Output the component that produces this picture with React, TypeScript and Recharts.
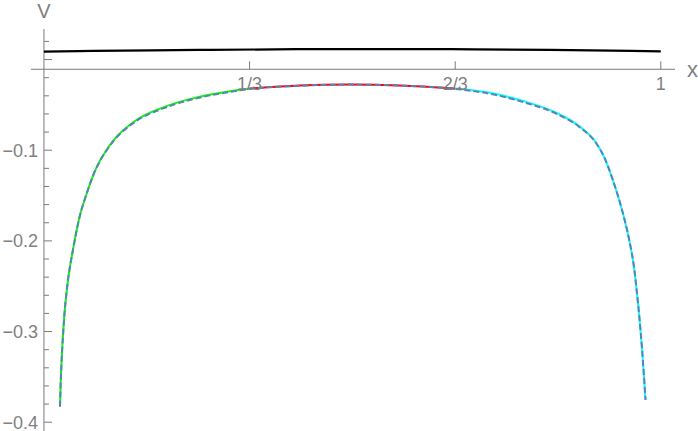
import React from 'react';
import { LineChart, Line, XAxis, YAxis, ReferenceLine, ReferenceDot } from 'recharts';

const X_MIN = -0.021;
const X_MAX = 1.023;
const Y_MIN = -0.4097;
const Y_MAX = 0.0337;
const AXIS_Y = -0.0107;

const X_TICK_VALUES = [1 / 3, 2 / 3, 1];
const X_TICK_LABELS = ['1/3', '2/3', '1'];
const Y_MAJOR_VALUES = [0, -0.1, -0.2, -0.3, -0.4];
const Y_MAJOR_LABELS = ['', '\u22120.1', '\u22120.2', '\u22120.3', '\u22120.4'];
const Y_MINOR_VALUES = [
  0.02, -0.02, -0.04, -0.06, -0.08, -0.12, -0.14, -0.16, -0.18, -0.22, -0.24, -0.26, -0.28,
  -0.32, -0.34, -0.36, -0.38,
];

// black curve
const BLACK = [
  { x: 0, y: 0.0087 },
  { x: 0.08, y: 0.0095 },
  { x: 0.25, y: 0.0106 },
  { x: 0.41, y: 0.0114 },
  { x: 0.5, y: 0.0116 },
  { x: 0.66, y: 0.0114 },
  { x: 0.82, y: 0.0106 },
  { x: 1, y: 0.0091 },
];

// green: x in [0, 1/3]
const GREEN = [
  { x: 0.026, y: -0.3828 },
  { x: 0.0272, y: -0.355 },
  { x: 0.0287, y: -0.3313 },
  { x: 0.0329, y: -0.2836 },
  { x: 0.0384, y: -0.2464 },
  { x: 0.047, y: -0.21 },
  { x: 0.0583, y: -0.172 },
  { x: 0.0692, y: -0.148 },
  { x: 0.0794, y: -0.1283 },
  { x: 0.0908, y: -0.1115 },
  { x: 0.1016, y: -0.0997 },
  { x: 0.1123, y: -0.0895 },
  { x: 0.1502, y: -0.0666 },
  { x: 0.1934, y: -0.0527 },
  { x: 0.2475, y: -0.0417 },
  { x: 0.3015, y: -0.0349 },
  { x: 1 / 3, y: -0.0319 },
];

// red: x in [1/3, 2/3]
const RED = [
  { x: 1 / 3, y: -0.0319 },
  { x: 0.4149, y: -0.0287 },
  { x: 0.4959, y: -0.0275 },
  { x: 0.577, y: -0.0285 },
  { x: 2 / 3, y: -0.0319 },
];

// cyan: x in [2/3, 1]
const CYAN = [
  { x: 2 / 3, y: -0.0319 },
  { x: 0.7229, y: -0.0367 },
  { x: 0.7768, y: -0.0458 },
  { x: 0.8309, y: -0.0588 },
  { x: 0.8687, y: -0.074 },
  { x: 0.8957, y: -0.0923 },
  { x: 0.9092, y: -0.1089 },
  { x: 0.9222, y: -0.1328 },
  { x: 0.9384, y: -0.1692 },
  { x: 0.9498, y: -0.2023 },
  { x: 0.9567, y: -0.2298 },
  { x: 0.9608, y: -0.2541 },
  { x: 0.9652, y: -0.2839 },
  { x: 0.9697, y: -0.3203 },
  { x: 0.9752, y: -0.3754 },
];

// dashed approximation over the whole range
const BLUE = [
  { x: 0.026, y: -0.3828 },
  { x: 0.0272, y: -0.355 },
  { x: 0.0287, y: -0.3313 },
  { x: 0.0329, y: -0.2836 },
  { x: 0.0384, y: -0.2464 },
  { x: 0.047, y: -0.21 },
  { x: 0.0583, y: -0.172 },
  { x: 0.0692, y: -0.148 },
  { x: 0.0794, y: -0.1283 },
  { x: 0.0908, y: -0.1117 },
  { x: 0.1016, y: -0.1001 },
  { x: 0.1123, y: -0.0902 },
  { x: 0.1502, y: -0.0676 },
  { x: 0.1934, y: -0.0538 },
  { x: 0.2475, y: -0.0428 },
  { x: 0.3015, y: -0.0357 },
  { x: 0.3339, y: -0.0324 },
  { x: 0.4149, y: -0.0289 },
  { x: 0.4959, y: -0.0276 },
  { x: 0.577, y: -0.0287 },
  { x: 0.6677, y: -0.0324 },
  { x: 0.7229, y: -0.0377 },
  { x: 0.7768, y: -0.0469 },
  { x: 0.8309, y: -0.0598 },
  { x: 0.8687, y: -0.0748 },
  { x: 0.8957, y: -0.0928 },
  { x: 0.9092, y: -0.1092 },
  { x: 0.9222, y: -0.1328 },
  { x: 0.9384, y: -0.1692 },
  { x: 0.9498, y: -0.2023 },
  { x: 0.9567, y: -0.2298 },
  { x: 0.9608, y: -0.2541 },
  { x: 0.9652, y: -0.2839 },
  { x: 0.9697, y: -0.3203 },
  { x: 0.9752, y: -0.3754 },
];

const AXIS_COLOR = '#7a7a7a';
const LABEL_COLOR = '#7f7f7f';
const FONT = '"Liberation Sans", Arial, sans-serif';
const X_TICK_LEN = 0.0088;
const Y_MAJOR_LEN = 0.013;
const Y_MINOR_LEN = 0.0081;

export default function App() {
  return (
    <div style={{ position: 'absolute', left: 0, top: 0 }}>
      <LineChart
        width={698}
        height={431}
        margin={{ top: 29, right: 23, bottom: 0, left: 31 }}
        style={{ fontFamily: FONT }}
      >
        <XAxis type="number" dataKey="x" domain={[X_MIN, X_MAX]} allowDataOverflow hide />
        <YAxis type="number" dataKey="y" domain={[Y_MIN, Y_MAX]} allowDataOverflow hide />

        <ReferenceLine x={0} stroke={AXIS_COLOR} strokeWidth={1} />
        <ReferenceLine y={AXIS_Y} stroke={AXIS_COLOR} strokeWidth={1} />

        {X_TICK_VALUES.map((v) => (
          <ReferenceLine
            key={'xt' + v}
            segment={[
              { x: v, y: AXIS_Y },
              { x: v, y: AXIS_Y + X_TICK_LEN },
            ]}
            stroke={AXIS_COLOR}
            strokeWidth={1}
          />
        ))}
        {Y_MAJOR_VALUES.map((v) => (
          <ReferenceLine
            key={'ym' + v}
            segment={[
              { x: 0, y: v },
              { x: Y_MAJOR_LEN, y: v },
            ]}
            stroke={AXIS_COLOR}
            strokeWidth={1}
          />
        ))}
        {Y_MINOR_VALUES.map((v) => (
          <ReferenceLine
            key={'yn' + v}
            segment={[
              { x: 0, y: v },
              { x: Y_MINOR_LEN, y: v },
            ]}
            stroke={AXIS_COLOR}
            strokeWidth={1}
          />
        ))}

        <Line data={BLACK} dataKey="y" type="monotone" stroke="#000" strokeWidth={2.2} dot={false} isAnimationActive={false} />
        <Line data={GREEN} dataKey="y" type="monotone" stroke="#00ff00" strokeWidth={2} dot={false} isAnimationActive={false} />
        <Line data={RED} dataKey="y" type="monotone" stroke="#ff0000" strokeWidth={2} dot={false} isAnimationActive={false} />
        <Line data={CYAN} dataKey="y" type="monotone" stroke="#00ffff" strokeWidth={2} dot={false} isAnimationActive={false} />
        <Line data={BLUE} dataKey="y" type="monotone" stroke="#5e81b5" strokeWidth={2} strokeDasharray="6 3" dot={false} isAnimationActive={false} />

        {X_TICK_VALUES.map((v, i) => (
          <ReferenceDot
            key={'xl' + v}
            x={v}
            y={AXIS_Y}
            r={0}
            fill="none"
            stroke="none"
            label={{ value: X_TICK_LABELS[i], position: 'bottom', offset: 8, fill: LABEL_COLOR, fontSize: 18, fontFamily: FONT }}
          />
        ))}
        {Y_MAJOR_VALUES.map((v, i) => (
          <ReferenceDot
            key={'yl' + v}
            x={0}
            y={v}
            r={0}
            fill="none"
            stroke="none"
            label={{ value: Y_MAJOR_LABELS[i], position: 'left', offset: 6, fill: LABEL_COLOR, fontSize: 18, fontFamily: FONT }}
          />
        ))}
        <ReferenceDot
          x={0}
          y={Y_MAX}
          r={0}
          fill="none"
          stroke="none"
          label={{ value: 'V', position: 'top', offset: 11, fill: LABEL_COLOR, fontSize: 20, fontFamily: FONT }}
        />
        <ReferenceDot
          x={X_MAX}
          y={AXIS_Y}
          r={0}
          fill="none"
          stroke="none"
          label={{ value: 'x', position: 'right', offset: 12, fill: LABEL_COLOR, fontSize: 22, fontFamily: FONT }}
        />
      </LineChart>
    </div>
  );
}
